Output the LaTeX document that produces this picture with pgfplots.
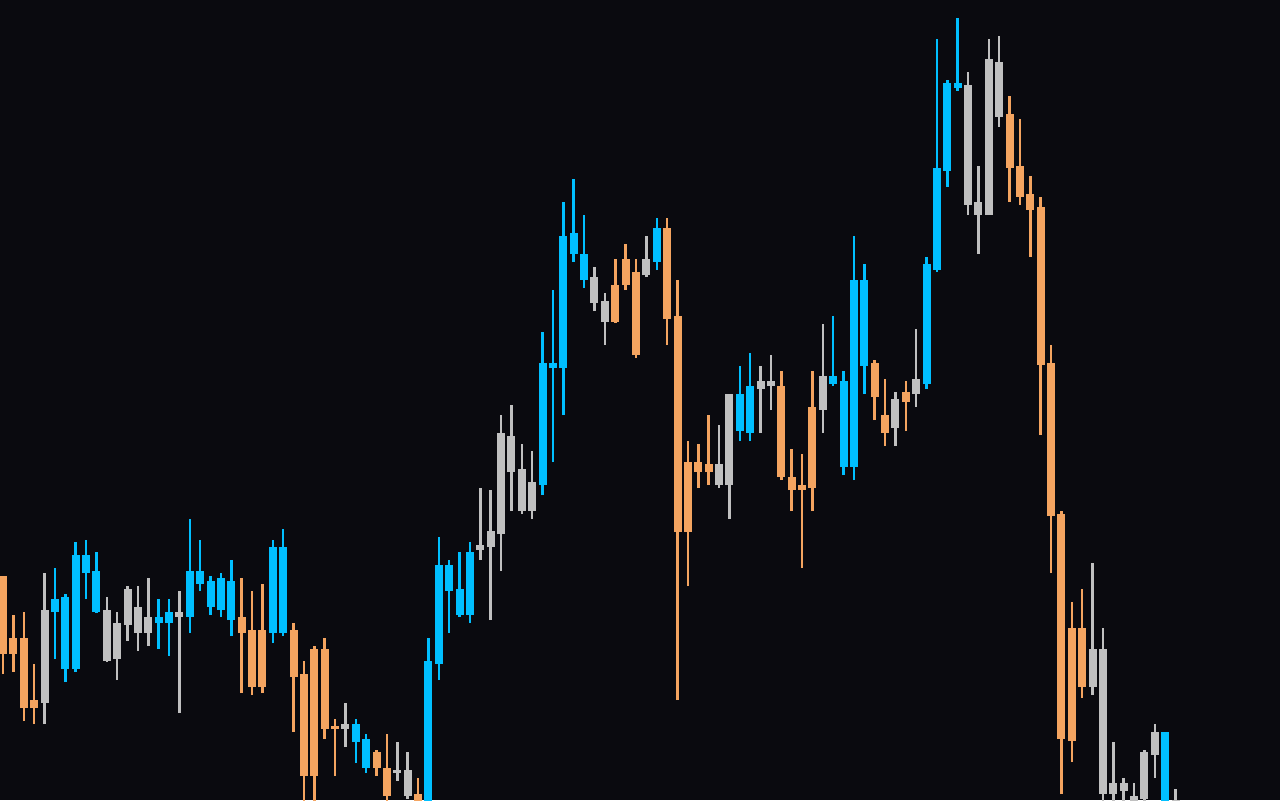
\documentclass[border=0pt]{standalone}
\usepackage{pgfplots}
\usepackage{pgfplotstable}
\pgfplotsset{compat=1.18}
\definecolor{bgc}{RGB}{10,10,15}
\definecolor{cblue}{RGB}{0,191,255}
\definecolor{corange}{RGB}{244,164,96}
\definecolor{cgray}{RGB}{192,192,192}
\pgfplotstableread{
i high low top bot
0 224 126 224 146
1 185 128 162 146
2 188 79 162 92
3 136 76 100 92
23 222 107 183 167
24 209 105 170 113
25 216 107 170 113
28 177 68 170 123
29 139 -10 126 24
30 154 -10 151 24
31 162 61 151 71
32 81 24 74 71
36 50 24 48 32
37 66 -5 32 4
40 22 -20 6 -10
59 541 477 515 478
60 556 510 541 515
61 541 442 528 445
64 582 455 572 481
65 520 100 484 268
66 359 214 338 268
67 356 312 338 328
68 385 315 336 328
75 429 320 414 323
76 351 289 323 310
77 346 232 315 310
78 429 289 393 312
84 440 380 437 403
85 421 354 385 367
87 419 369 408 398
97 704 598 686 632
98 681 595 634 603
99 624 543 606 590
100 603 365 593 435
101 455 227 437 284
102 289 6 286 61
103 198 38 172 59
104 211 102 172 113
}\torange
\pgfplotstableread{
i high low top bot
4 227 76 190 97
10 203 138 190 139
11 188 120 177 141
12 214 159 211 175
13 214 149 193 167
14 222 154 183 167
17 209 87 188 183
33 97 53 76 71
38 58 19 30 27
39 48 1 30 4
46 312 240 255 250
47 310 180 269 253
48 385 229 367 266
49 395 289 364 328
50 356 286 331 289
51 349 281 318 289
57 533 489 523 497
58 507 455 499 478
62 564 523 541 525
69 375 312 336 315
70 406 281 406 315
73 434 367 419 411
74 445 390 419 414
79 476 367 424 390
86 408 354 401 372
88 471 393 421 406
93 728 585 715 595
94 634 546 598 585
95 761 585 741 585
96 764 673 738 683
105 237 105 151 113
106 172 -10 151 6
107 58 -10 17 6
108 22 -5 17 9
109 17 -10 4 -5
110 50 -10 48 1
111 76 22 68 45
113 11 -10 0 -5
}\tgray
\pgfplotstableread{
i high low top bot
5 232 141 201 188
6 206 118 203 131
7 258 128 245 131
8 260 201 245 227
9 248 187 229 188
15 201 151 183 177
16 201 144 188 177
18 281 167 229 183
19 260 209 229 216
20 224 185 219 193
21 227 183 222 190
22 240 164 219 180
26 260 157 253 167
27 271 164 253 167
34 81 37 76 58
35 66 27 61 32
41 162 -20 139 -10
42 263 120 235 136
43 240 167 235 209
44 248 183 211 185
45 258 177 248 185
52 468 305 437 315
53 510 338 437 432
54 598 385 564 432
55 621 538 567 546
56 585 512 546 520
63 582 530 572 538
71 434 359 406 369
72 447 359 414 367
80 484 414 424 416
81 429 325 419 333
82 564 320 520 333
83 536 406 520 434
89 543 411 536 416
90 761 528 632 530
91 720 613 717 629
92 782 709 717 712
112 68 -20 68 -10
}\tblue
\pgfplotsset{
  wick/.style={draw=none, mark=none, forget plot,
    error bars/.cd, y dir=plus, y explicit, error mark=none,
    error bar style={line width=1.25pt, draw=#1, line cap=butt}},
  body/.style={draw=none, mark=none, forget plot,
    error bars/.cd, y dir=plus, y explicit, error mark=none,
    error bar style={line width=4pt, draw=#1, line cap=butt}},
}
\begin{document}
\begin{tikzpicture}
\begin{axis}[scale only axis, width=640pt, height=400pt,
  xmin=-0.289, xmax=123.06, ymin=0, ymax=800,
  hide axis, clip=true]
\path[fill=bgc] (rel axis cs:0,0) rectangle (rel axis cs:1,1);
\addplot[wick=corange] table[x=i, y=low, y error plus expr=\thisrow{high}-\thisrow{low}] {\torange};
\addplot[body=corange] table[x=i, y=bot, y error plus expr=\thisrow{top}-\thisrow{bot}] {\torange};
\addplot[wick=cgray] table[x=i, y=low, y error plus expr=\thisrow{high}-\thisrow{low}] {\tgray};
\addplot[body=cgray] table[x=i, y=bot, y error plus expr=\thisrow{top}-\thisrow{bot}] {\tgray};
\addplot[wick=cblue] table[x=i, y=low, y error plus expr=\thisrow{high}-\thisrow{low}] {\tblue};
\addplot[body=cblue] table[x=i, y=bot, y error plus expr=\thisrow{top}-\thisrow{bot}] {\tblue};
\end{axis}
\end{tikzpicture}
\end{document}
